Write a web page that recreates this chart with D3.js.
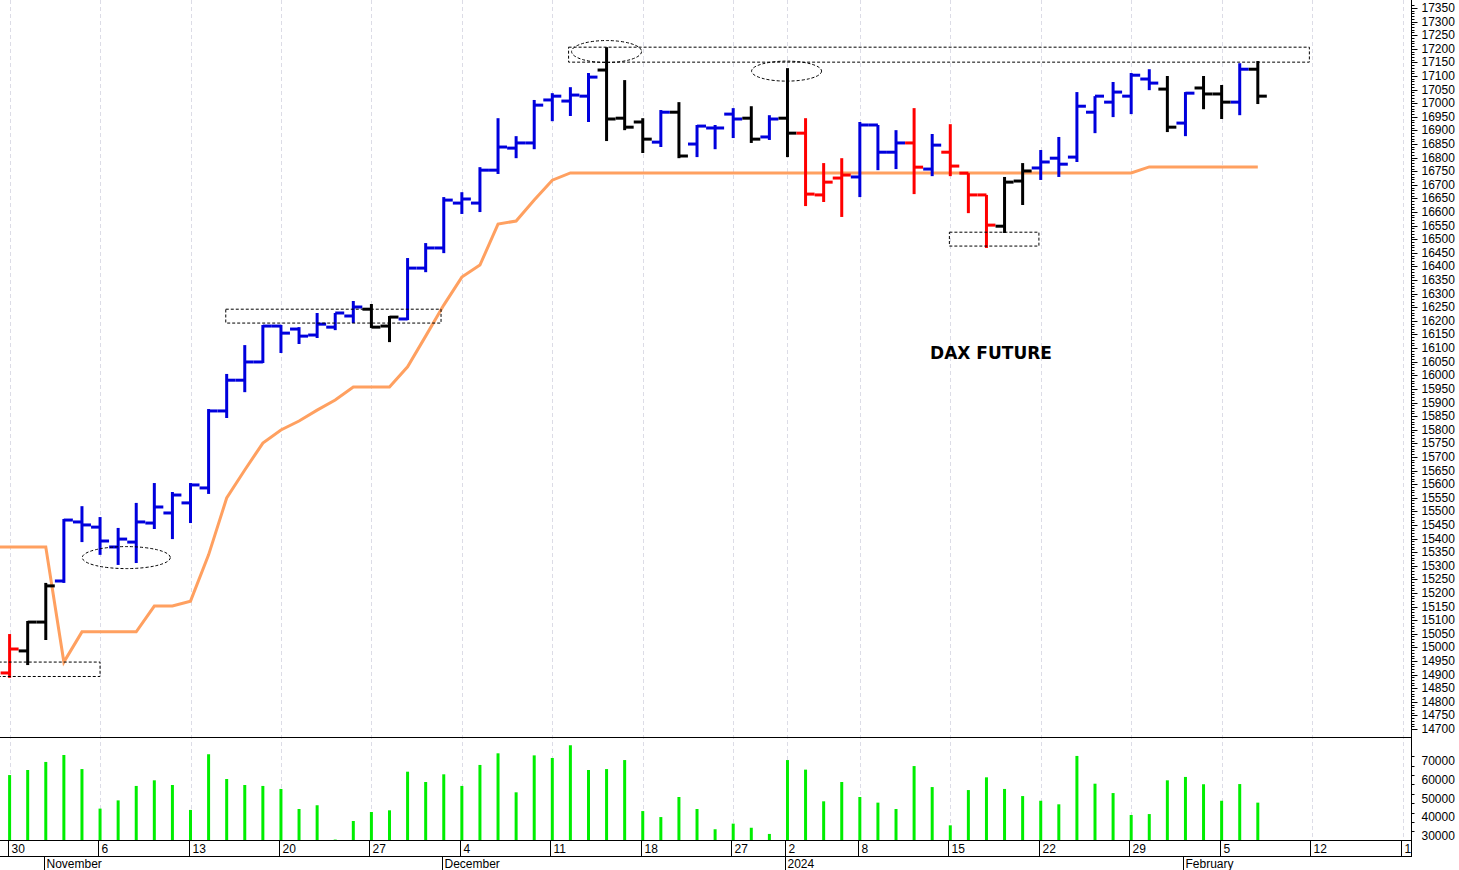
<!DOCTYPE html>
<html><head><meta charset="utf-8">
<script src="https://cdn.jsdelivr.net/npm/d3@7"></script>
<style>body{margin:0;background:#fff}svg{display:block}</style>
</head><body><svg id="c" width="1459" height="870"></svg>
<script>
const opens  = [14906,14987,15093,15244,15461,15442,15369,15387,15457,15494,15531,15586,15869,15982,16049,16181,16170,16148,16177,16218,16243,16181,16207,16394,16468,16633,16633,16754,16835,16854,17012,17008,17026,17122,16945,16931,16857,16967,16850,16909,16960,16945,16876,16945,16890,16663,16725,16729,16920,16820,16854,16758,16820,16743,16663,16548,16714,16762,16798,16802,16967,17004,17026,17089,17052,16927,17056,17034,17004,17125];
const highs  = [15049,15097,15237,15472,15519,15479,15439,15531,15604,15571,15604,15876,16005,16111,16185,16185,16177,16229,16229,16273,16262,16218,16431,16486,16655,16673,16765,16945,16879,17012,17037,17059,17111,17206,17085,16945,16975,17004,16920,16920,16982,16989,16956,17129,16945,16780,16798,16931,16920,16901,16982,16887,16923,16743,16663,16729,16780,16828,16876,17041,17026,17078,17111,17125,17100,17041,17100,17067,17147,17155];
const lows   = [14888,14935,15027,15237,15387,15340,15303,15310,15435,15398,15457,15564,15843,15938,16045,16082,16115,16137,16166,16192,16174,16122,16203,16379,16449,16593,16600,16740,16798,16831,16934,16953,16931,16861,16901,16817,16839,16798,16802,16831,16872,16854,16865,16802,16622,16637,16582,16655,16754,16758,16666,16732,16732,16596,16468,16523,16626,16718,16729,16784,16890,16949,16960,17048,16894,16879,16978,16942,16956,16997];
const closes = [14994,15093,15226,15468,15450,15391,15398,15461,15516,15560,15597,15869,15982,16049,16181,16155,16144,16188,16229,16251,16177,16214,16394,16468,16644,16648,16754,16839,16854,16993,17026,17030,17096,16942,16912,16868,16967,16806,16916,16909,16942,16868,16942,16890,16666,16710,16736,16920,16820,16854,16765,16846,16769,16663,16552,16710,16751,16784,16776,16989,17026,17041,17103,17074,16912,17037,17034,17004,17125,17026];
const barColors = "RKKBBBBBBBBBBBBBBBBBKKBBBBBBBBBBBKKKBKBBBKBKRRRBBBRBRRRKKBBBBBBBKBKKBK";
const volumes = [62500,65200,69500,73200,65700,44600,49000,56700,59700,57200,43900,73600,60400,57200,56700,55100,44400,46400,28100,38000,42800,43700,64300,58800,62900,56700,67900,74100,53300,73000,71600,78400,65200,65700,70500,43300,40100,50800,44400,33600,36600,34400,31100,70500,65400,48500,58800,50800,47800,44400,67300,56100,35700,54500,61300,55100,51300,48800,46900,72700,57900,52900,41200,41700,59700,61500,57600,48800,57700,47800];
// trailing line, starts one session before first bar (index -1)
const trail = [15369,15369,15369,15369,14946,15057,15057,15057,15057,15152,15152,15170,15340,15549,15652,15751,15799,15832,15872,15909,15957,15957,15957,16031,16144,16258,16361,16405,16556,16567,16644,16717,16744,16744,16744,16744,16744,16744,16744,16744,16744,16744,16744,16744,16744,16744,16744,16744,16744,16744,16744,16744,16744,16744,16744,16744,16744,16744,16744,16744,16744,16744,16744,16744,16766,16766,16766,16766,16766,16766,16766];
const dayTicks = [[0,"30"],[5,"6"],[10,"13"],[15,"20"],[20,"27"],[25,"4"],[30,"11"],[35,"18"],[40,"27"],[43,"2"],[47,"8"],[52,"15"],[57,"22"],[62,"29"],[67,"5"],[72,"12"],[77,"19"]];
const monthTicks = [[2,"November"],[24,"December"],[43,"2024"],[65,"February"]];
const priceTicks = d3.range(14700, 17351, 50);
const volTicks = [30000,40000,50000,60000,70000];
const title = "DAX FUTURE";

const svg = d3.select("#c");
const axisX = 1411;
const x = d3.scaleLinear().domain([0, 69]).range([9.6, 9.6 + 69*18.09]);
const y = d3.scaleLinear().domain([14700, 17350]).range([729, 8]);
const yv = d3.scaleLinear().domain([30000, 70000]).range([836, 761]);
const colMap = {R:"#ff0000", K:"#000000", B:"#0000dd"};
const font = "'Liberation Sans', Arial, sans-serif";

const defs = svg.append("defs");
defs.append("clipPath").attr("id","pc").append("rect").attr("x",0).attr("y",0).attr("width",axisX).attr("height",737);
defs.append("clipPath").attr("id","dc").append("rect").attr("x",0).attr("y",840).attr("width",axisX).attr("height",30);

// grid
dayTicks.forEach(([i]) => {
  const xx = Math.round(x(i)) + 0.5;
  if (xx >= axisX) return;
  svg.append("line").attr("x1",xx).attr("x2",xx).attr("y1",0).attr("y2",840)
    .attr("stroke","#dcdce6").attr("stroke-dasharray","4,3");
});

const g = svg.append("g").attr("clip-path","url(#pc)");
g.append("path").datum(trail.map((v,k)=>[k-1,v]))
  .attr("d", d3.line().x(d=>x(d[0])).y(d=>y(d[1])))
  .attr("fill","none").attr("stroke","#ffa060").attr("stroke-width",3);

const idx = d3.range(opens.length);
const bars = g.selectAll("g.bar").data(idx).join("g").attr("stroke", i=>colMap[barColors[i]]).attr("stroke-width",3);
bars.append("line").attr("x1",i=>x(i)).attr("x2",i=>x(i)).attr("y1",i=>y(highs[i])).attr("y2",i=>y(lows[i]));
bars.append("line").attr("x1",i=>x(i)-9).attr("x2",i=>x(i)).attr("y1",i=>y(opens[i])).attr("y2",i=>y(opens[i]));
bars.append("line").attr("x1",i=>x(i)).attr("x2",i=>x(i)+9).attr("y1",i=>y(closes[i])).attr("y2",i=>y(closes[i]));

const dash = s => s.attr("fill","none").attr("stroke","#000").attr("stroke-width",1).attr("stroke-dasharray","3,2");
const rects = [[-0.6,5,14946,14893],[11.95,23.85,16243,16192],[30.9,71.85,17206,17151],[51.95,56.9,16526,16475]];
rects.forEach(([a,b,t,bt]) => dash(g.append("rect").attr("x",x(a)).attr("y",y(t)).attr("width",x(b)-x(a)).attr("height",y(bt)-y(t))));
const ells = [[6.45,15330,44,11],[33,17190,35,11],[42.95,17118,35,10]];
ells.forEach(([c,v,rx,ry]) => dash(g.append("ellipse").attr("cx",x(c)).attr("cy",y(v)).attr("rx",rx).attr("ry",ry)));

svg.append("text").attr("x",991).attr("y",359).attr("text-anchor","middle")
  .attr("font-family","'DejaVu Sans', Verdana, sans-serif").attr("font-weight","bold").attr("font-size",17).text(title);

svg.selectAll("line.vol").data(idx).join("line").attr("class","vol")
  .attr("x1",i=>x(i)).attr("x2",i=>x(i)).attr("y1",840).attr("y2",i=>yv(volumes[i]))
  .attr("stroke","#00ee00").attr("stroke-width",3);

svg.append("line").attr("x1",0).attr("x2",axisX).attr("y1",737.5).attr("y2",737.5).attr("stroke","#000");
svg.append("line").attr("x1",0).attr("x2",axisX).attr("y1",840.5).attr("y2",840.5).attr("stroke","#000");
svg.append("line").attr("x1",0).attr("x2",axisX).attr("y1",856.5).attr("y2",856.5).attr("stroke","#000");
svg.append("line").attr("x1",axisX+0.5).attr("x2",axisX+0.5).attr("y1",0).attr("y2",857).attr("stroke","#000");

const pa = svg.append("g").attr("transform",`translate(${axisX+0.5},0)`);
d3.range(14700, 17361, 10).forEach(v => {
  const yy = Math.round(y(v))+0.5;
  pa.append("line").attr("x1",0).attr("x2", v%50===0?6:3).attr("y1",yy).attr("y2",yy).attr("stroke","#000");
});
pa.selectAll("text").data(priceTicks).join("text").attr("x",10).attr("y",v=>y(v)+4)
  .attr("font-family",font).attr("font-size",12).text(v=>v);

const va = svg.append("g").attr("transform",`translate(${axisX+0.5},0)`);
d3.range(27500, 75001, 5000).forEach(v => {
  const yy = Math.round(yv(v))+0.5;
  if (yy < 739 || yy > 840) return;
  va.append("line").attr("x1",0).attr("x2", v%10000===0?6:3).attr("y1",yy).attr("y2",yy).attr("stroke","#000");
});
va.selectAll("text").data(volTicks).join("text").attr("x",10).attr("y",v=>yv(v)+4)
  .attr("font-family",font).attr("font-size",12).text(v=>v);

const da = svg.append("g").attr("clip-path","url(#dc)");
dayTicks.forEach(([i,l]) => {
  const xx = Math.round(x(i)) - 1.5;
  if (xx > axisX) return;
  da.append("line").attr("x1",xx).attr("x2",xx).attr("y1",840).attr("y2",856).attr("stroke","#000");
  da.append("text").attr("x",xx+3).attr("y",853).attr("font-family",font).attr("font-size",12).text(l);
});
monthTicks.forEach(([i,l]) => {
  const xx = Math.round(x(i)) - 1.5;
  da.append("line").attr("x1",xx).attr("x2",xx).attr("y1",856).attr("y2",870).attr("stroke","#000");
  da.append("text").attr("x",xx+2).attr("y",868).attr("font-family",font).attr("font-size",12).text(l);
});
</script></body></html>
